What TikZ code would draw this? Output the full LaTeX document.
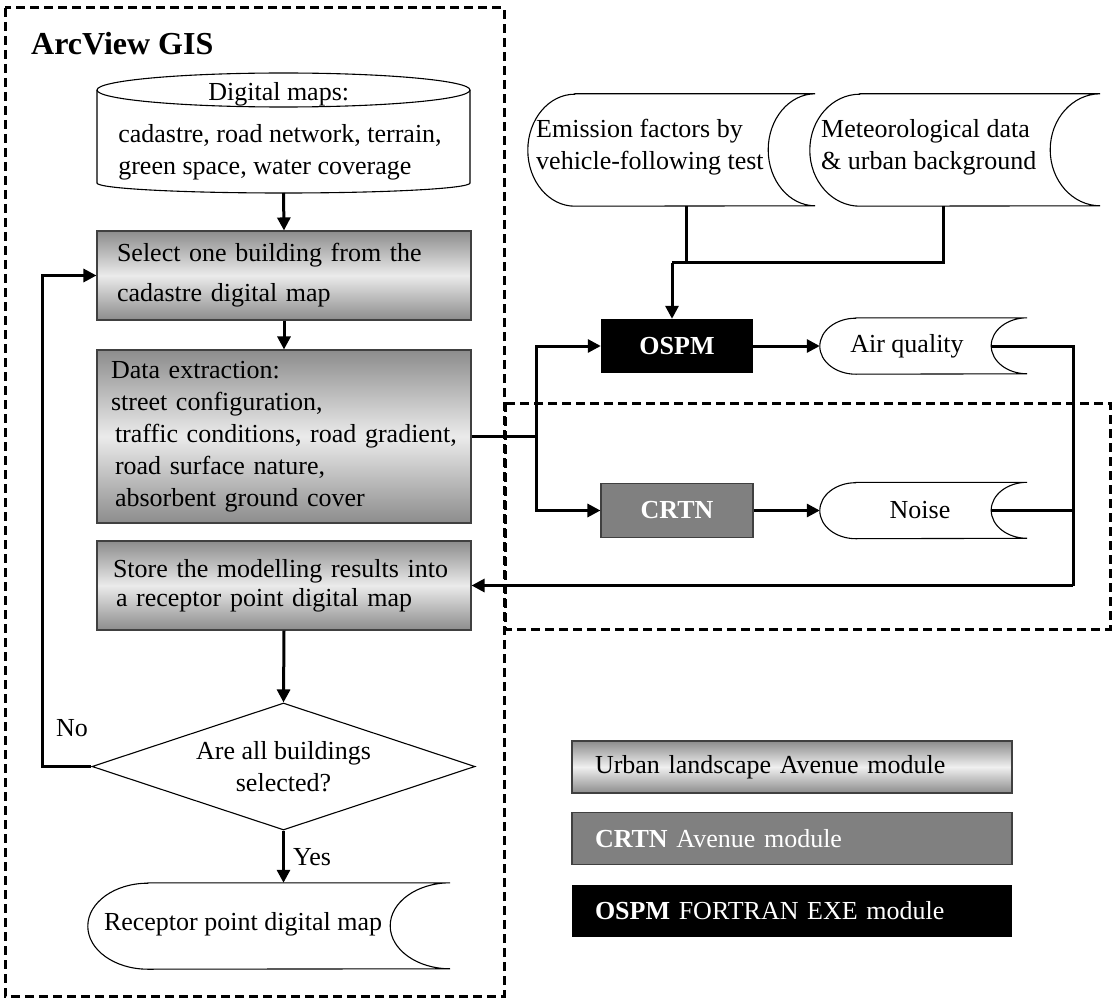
\documentclass[tikz,border=0pt]{standalone}
\usepackage{fontspec}
\setmainfont{Liberation Serif}
\usetikzlibrary{arrows.meta,shapes.geometric}

\newcommand\basefont{\fontsize{26}{32}\selectfont}
% outline of a stored-data shape round an empty node: node, depth, half height
\newcommand\tapeoutline[3]{%
  \draw[outline] ([xshift=#2pt]#1.north west) -- (#1.north east)
    arc[start angle=90, end angle=270, x radius=#2pt, y radius=#3pt]
    -- ([xshift=#2pt]#1.south west)
    arc[start angle=270, end angle=90, x radius=#2pt, y radius=#3pt] -- cycle;}

\begin{document}
\begin{tikzpicture}[x=1pt, y=-1pt,
    every node/.style={font=\basefont},
    txt/.style={inner sep=0pt},
    line/.style={line width=3pt},
    arrow/.style={line width=3pt, -{Triangle[length=13pt, width=13pt]}},
    frame/.style={line width=3pt, dash pattern=on 9pt off 5pt},
    outline/.style={line width=1.1pt},
    process/.style={draw=black!75, line width=1.1pt, top color=black!45,
        bottom color=black!45, middle color=black!8, minimum width=374,
        text width=334pt, inner xsep=20pt, align=left},
    model/.style={minimum width=152, minimum height=54, text=white,
        font=\basefont\bfseries},
    legend/.style={minimum width=440, minimum height=52, text width=394pt,
        inner xsep=23pt, align=left, line width=1.1pt},
    decision/.style={diamond, draw, outline, minimum width=383,
        minimum height=127, inner sep=0pt},
    ]
    \useasboundingbox (0,0) rectangle (1114,1003);

    % ArcView GIS part
    \draw[frame] (5,8) rectangle (504,996);
    \node[txt, anchor=west, font=\fontsize{32}{38}\selectfont\bfseries] (gis) at (31,44) {ArcView GIS};

    \draw[outline] (97,90) -- (97,183)
        arc[start angle=180, end angle=360, x radius=186.5pt, y radius=10pt] -- (470,90);
    \draw[outline] (283.5,90) ellipse [x radius=186.5pt, y radius=17pt];
    \node[txt, align=left] (maps) at (280,131) {\hspace*{90pt}Digital maps:\\[10pt]cadastre, road network, terrain,\\green space, water coverage};
    \coordinate (mapsB) at (283.5,193);

    \node[process, minimum height=89] (sel) at (284,275.5) {Select one building from the\\[8pt]cadastre digital map};
    \node[process, minimum height=173, inner xsep=14pt, text width=346pt] (data) at (284,436.5)
        {Data extraction:\\street configuration,\\\hspace*{4pt}traffic conditions, road gradient,\\\hspace*{4pt}road surface nature,\\\hspace*{4pt}absorbent ground cover};
    \node[process, minimum height=89, inner xsep=16pt, text width=342pt] (store) at (284,585.5)
        {Store the modelling results into\\[-3pt]\hspace*{3pt}a receptor point digital map};

    \node[decision] (dec) at (283.5,766.5) {};
    \node[txt, align=center] (decT) at (dec) {Are all buildings\\selected?};

    \node[minimum width=362, minimum height=86] (rec) at (269,926) {};
    \tapeoutline{rec}{60}{43}
    \node[txt] (recT) at (243,924) {Receptor point digital map};

    \draw[arrow] (mapsB) -- (sel.north);
    \draw[arrow] (sel.south) -- (data.north);
    \draw[arrow] (store.south) -- (dec.north);
    \draw[arrow] (dec.south) -- (dec.south |- rec.north);
    \node[txt, anchor=west] (yes) at (293,857) {Yes};
    \draw[arrow] (dec.west) -- ++(-49,0) |- (sel.west);
    \node[txt] (no) at (72,728) {No};

    % models
    \node[minimum width=287, minimum height=112] (emis) at (671.5,150) {};
    \tapeoutline{emis}{47}{56}
    \node[txt, anchor=west, align=left] (emisT) at (536,147) {Emission factors by\\vehicle-following test};
    \node[minimum width=290, minimum height=112] (met) at (955,150) {};
    \tapeoutline{met}{50}{56}
    \node[txt, anchor=west, align=left] (metT) at (821,147) {Meteorological data\\\& urban background};

    \node[model, fill=black] (ospm) at (677,346) {OSPM};
    \node[model, fill=black!50, draw=black!75, line width=1.1pt] (crtn) at (677,510.5) {CRTN};

    \node[minimum width=207, minimum height=56] (aq) at (923.5,346) {};
    \tapeoutline{aq}{36}{28}
    \node[txt] (aqT) at (907,346) {Air quality};
    \node[minimum width=207, minimum height=56] (noise) at (923.5,510.5) {};
    \tapeoutline{noise}{36}{28}
    \node[txt] (noiseT) at (920,510.5) {Noise};

    \draw[frame] (505,403) rectangle (1110,629);

    \coordinate (join) at (672,263);
    \draw[line] ([xshift=14.5pt]emis.south) |- (join);
    \draw[line] ([xshift=-12pt]met.south) |- (join);
    \draw[arrow] (join) -- (join |- ospm.north);

    \coordinate (split) at (536,436.5);
    \draw[line] (data.east) -- (split);
    \draw[arrow] (split) |- (ospm.west);
    \draw[arrow] (split) |- (crtn.west);
    \draw[arrow] (ospm.east) -- (aq.west);
    \draw[arrow] (crtn.east) -- (noise.west);

    \coordinate (back) at (1073,585.5);
    \draw[line] ([xshift=-36pt]aq.east) -| (back);
    \draw[line] ([xshift=-36pt]noise.east) -- (noise.east -| back);
    \draw[arrow] (back) -- (store.east);

    % legend
    \node[legend, draw=black!75, top color=black!45, bottom color=black!45, middle color=black!6] (lgUrban) at (792,767) {Urban landscape Avenue module};
    \node[legend, draw=black!75, fill=black!50, text=white] (lgCrtn) at (792,838.5) {\textbf{CRTN} Avenue module};
    \node[legend, fill=black, text=white] (lgOspm) at (792,911) {\textbf{OSPM} FORTRAN EXE module};
\end{tikzpicture}
\end{document}
